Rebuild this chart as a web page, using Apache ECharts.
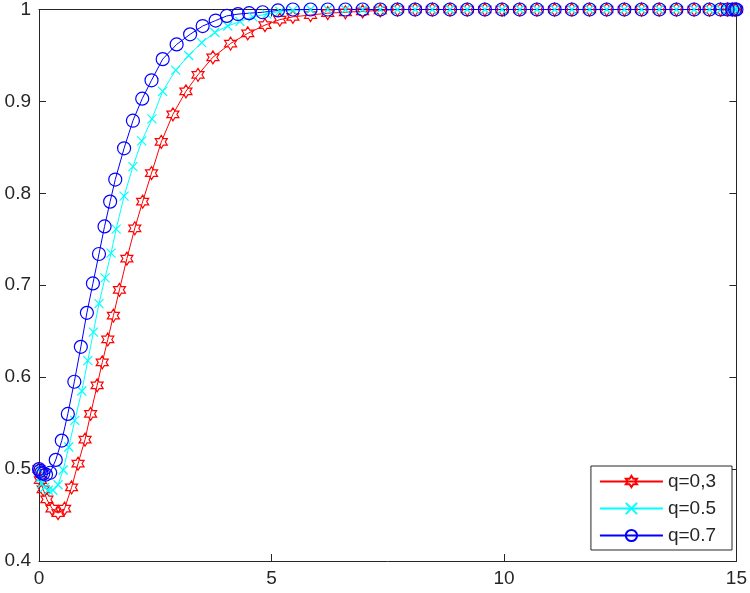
<!DOCTYPE html>
<html>
<head>
<meta charset="utf-8">
<script src="https://cdn.jsdelivr.net/npm/echarts@6/dist/echarts.min.js"></script>
<style>html,body{margin:0;padding:0;background:#fff;}#c{width:750px;height:593px;}</style>
</head>
<body>
<div id="c"></div>
<script>
// ---- data ----
const seriesNames = ['q=0,3', 'q=0.5', 'q=0.7'];
const xTicks = [0, 5, 10, 15];
const yTicks = [0.4, 0.5, 0.6, 0.7, 0.8, 0.9, 1];

const redHeadX = [0, 0.03, 0.09, 0.17, 0.28, 0.41, 0.55, 0.70, 0.84, 0.99, 1.11, 1.25, 1.36, 1.48, 1.60, 1.73, 1.89, 2.06, 2.23, 2.42, 2.63, 2.88, 3.16, 3.42, 3.74, 4.12, 4.49, 4.86, 5.18];
const redHeadY = [0.500, 0.488, 0.478, 0.467, 0.457, 0.452, 0.457, 0.480, 0.506, 0.532, 0.560, 0.591, 0.616, 0.641, 0.667, 0.695, 0.729, 0.762, 0.791, 0.822, 0.856, 0.886, 0.911, 0.929, 0.948, 0.963, 0.974, 0.983, 0.989];

const cyanHeadX = [0, 0.02, 0.06, 0.12, 0.20, 0.30, 0.41, 0.52, 0.64, 0.77, 0.92, 1.05, 1.17, 1.29, 1.42, 1.55, 1.66, 1.83, 2.02, 2.21, 2.43, 2.66, 2.94, 3.22, 3.50, 3.78, 4.06, 4.32, 4.60, 4.90, 5.18];
const cyanHeadY = [0.500, 0.490, 0.484, 0.480, 0.477, 0.477, 0.483, 0.499, 0.524, 0.553, 0.585, 0.618, 0.649, 0.680, 0.708, 0.735, 0.761, 0.797, 0.829, 0.857, 0.881, 0.911, 0.934, 0.950, 0.964, 0.975, 0.982, 0.987, 0.992, 0.995, 0.998];

const blueHeadX = [0, 0.02, 0.05, 0.09, 0.15, 0.24, 0.36, 0.49, 0.62, 0.76, 0.90, 1.03, 1.16, 1.29, 1.41, 1.53, 1.64, 1.83, 2.02, 2.22, 2.42, 2.66, 2.96, 3.25, 3.52, 3.80, 4.04, 4.28, 4.52, 4.81, 5.14];
const blueHeadY = [0.500, 0.498, 0.496, 0.495, 0.494, 0.496, 0.510, 0.531, 0.560, 0.595, 0.633, 0.670, 0.702, 0.734, 0.764, 0.791, 0.815, 0.849, 0.879, 0.903, 0.923, 0.946, 0.962, 0.973, 0.982, 0.988, 0.993, 0.995, 0.996, 0.997, 0.999];

const tailX = [5.46, 5.84, 6.21, 6.59, 6.96, 7.34, 7.71, 8.09, 8.46, 8.84, 9.21, 9.59, 9.96, 10.34, 10.71, 11.09, 11.46, 11.84, 12.21, 12.59, 12.96, 13.34, 13.71, 14.09, 14.42, 14.66, 14.81, 14.91, 14.97, 15.0];
const redTailY  = [0.992, 0.994, 0.996, 0.997, 0.998, 0.999, 1, 1, 1, 1, 1, 1, 1, 1, 1, 1, 1, 1, 1, 1, 1, 1, 1, 1, 1, 1, 1, 1, 1, 1];
const cyanTailY = [0.999, 1, 1, 1, 1, 1, 1, 1, 1, 1, 1, 1, 1, 1, 1, 1, 1, 1, 1, 1, 1, 1, 1, 1, 1, 1, 1, 1, 1, 1];
const blueTailY = [1, 1, 1, 1, 1, 1, 1, 1, 1, 1, 1, 1, 1, 1, 1, 1, 1, 1, 1, 1, 1, 1, 1, 1, 1, 1, 1, 1, 1, 1];

// ---- build ----
function pairs(xs, ys) { return xs.map((x, i) => [x, ys[i]]); }
const redData = pairs(redHeadX.concat(tailX), redHeadY.concat(redTailY));
const cyanData = pairs(cyanHeadX.concat(tailX), cyanHeadY.concat(cyanTailY));
const blueData = pairs(blueHeadX.concat(tailX), blueHeadY.concat(blueTailY));

const hexagram = 'path://M100 0 L128.87 50 L186.6 50 L157.74 100 L186.6 150 L128.87 150 L100 200 L71.13 150 L13.4 150 L42.26 100 L13.4 50 L71.13 50 Z';
const cross = 'path://M0 0 L100 100 M100 0 L0 100';

const axisColor = '#262626';
const font = 'Liberation Sans, Arial, sans-serif';
const labelSize = 19;

const chart = echarts.init(document.getElementById('c'), null, {renderer: 'canvas'});
const fmt = v => String(Math.round(v * 10) / 10);

function axisCommon(show, margin) {
  return {
    axisLine: {show: true, onZero: false, lineStyle: {color: axisColor, width: 1}},
    axisTick: {show: true, inside: true, length: 7, lineStyle: {color: axisColor}},
    splitLine: {show: false},
    axisLabel: show ? {color: '#262626', fontSize: labelSize, fontFamily: font, margin: margin, formatter: fmt} : {show: false}
  };
}

chart.setOption({
  animation: false,
  backgroundColor: '#fff',
  grid: {left: 39, right: 13, top: 8, bottom: 32, containLabel: false},
  xAxis: [
    Object.assign({type: 'value', min: xTicks[0], max: xTicks[xTicks.length - 1], interval: 5, position: 'bottom'}, axisCommon(true, 8)),
    Object.assign({type: 'value', min: 0, max: 15, interval: 5, position: 'top'}, axisCommon(false))
  ],
  yAxis: [
    Object.assign({type: 'value', min: yTicks[0], max: yTicks[yTicks.length - 1], interval: 0.1, position: 'left'}, axisCommon(true, 8)),
    Object.assign({type: 'value', min: 0.4, max: 1, interval: 0.1, position: 'right'}, axisCommon(false))
  ],
  legend: {
    orient: 'vertical',
    right: 18,
    bottom: 43,
    backgroundColor: '#fff',
    borderColor: axisColor,
    borderWidth: 1,
    borderRadius: 0,
    padding: [6, 16, 5, 8],
    itemWidth: 63,
    itemHeight: 14,
    itemGap: 8,
    textStyle: {color: '#262626', fontSize: labelSize, fontFamily: font, lineHeight: 18},
    data: seriesNames
  },
  series: [
    {
      name: seriesNames[0], type: 'line', data: redData, clip: false,
      symbol: hexagram, symbolSize: [12, 13], showAllSymbol: true,
      lineStyle: {color: '#ff0000', width: 1},
      itemStyle: {color: 'rgba(0,0,0,0)', borderColor: '#ff0000', borderWidth: 1.2}
    },
    {
      name: seriesNames[1], type: 'line', data: cyanData, clip: false,
      symbol: cross, symbolSize: 9, showAllSymbol: true,
      lineStyle: {color: '#00ffff', width: 1},
      itemStyle: {color: 'rgba(0,0,0,0)', borderColor: '#00ffff', borderWidth: 1.2}
    },
    {
      name: seriesNames[2], type: 'line', data: blueData, clip: false,
      symbol: 'circle', symbolSize: 13, showAllSymbol: true,
      lineStyle: {color: '#0000ff', width: 1},
      itemStyle: {color: 'rgba(0,0,0,0)', borderColor: '#0000ff', borderWidth: 1.2}
    }
  ]
});
</script>
</body>
</html>
